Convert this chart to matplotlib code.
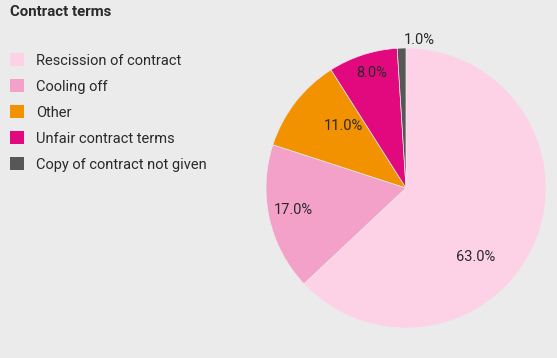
import numpy as np
import matplotlib.pyplot as plt
from matplotlib.patches import Patch

plt.rcParams['font.family'] = ['Roboto', 'DejaVu Sans']

title = "Contract terms"
categories = [
    "Rescission of contract",
    "Cooling off",
    "Other",
    "Unfair contract terms",
    "Copy of contract not given",
]
shares = [63.0, 17.0, 11.0, 8.0, 1.0]
colors = ["#fdd1e6", "#f4a1c9", "#f39200", "#e2097e", "#575756"]

# label placement (radius, angle in degrees) - layout only
label_layout = [(0.70, -45.0), (0.82, 191.0), (0.63, 135.5), (0.86, 106.5), (1.06, 85.0)]

bg = "#ebebeb"
text_color = "#2a2a2a"

W, H = 557, 358
fig = plt.figure(figsize=(W / 100, H / 100), dpi=100, facecolor=bg)

# pie axes: center ~ (406, 188) px, radius ~140 px
cx, cy, r = 406, 188, 140
ax = fig.add_axes([(cx - r) / W, (H - cy - r) / H, 2 * r / W, 2 * r / H])
ax.set_facecolor(bg)
wedges, _ = ax.pie(shares, colors=colors, startangle=90, counterclock=False,
                   radius=1.0, wedgeprops=dict(linewidth=0.5, edgecolor=bg))
ax.set_xlim(-1, 1)
ax.set_ylim(-1, 1)
ax.set_aspect("equal")
ax.axis("off")

for val, (rad, ang) in zip(shares, label_layout):
    a = np.deg2rad(ang)
    ax.text(rad * np.cos(a), rad * np.sin(a), f"{val:.1f}%",
            ha="center", va="center", fontsize=10.5, color=text_color)

fig.text(10 / W, 1 - 12 / H, title, ha="left", va="center",
         fontsize=10.8, fontweight="bold", color=text_color)

handles = [Patch(facecolor=c, edgecolor="none") for c in colors]
leg = fig.legend(handles, categories, loc="upper left",
                 bbox_to_anchor=(4 / W, 1 - 47.5 / H), frameon=False,
                 handlelength=0.95, handleheight=0.95, handletextpad=0.85,
                 labelspacing=0.8, fontsize=10.5, borderaxespad=0)
for t in leg.get_texts():
    t.set_color(text_color)

fig.savefig("out.png", dpi=100, facecolor=bg)
